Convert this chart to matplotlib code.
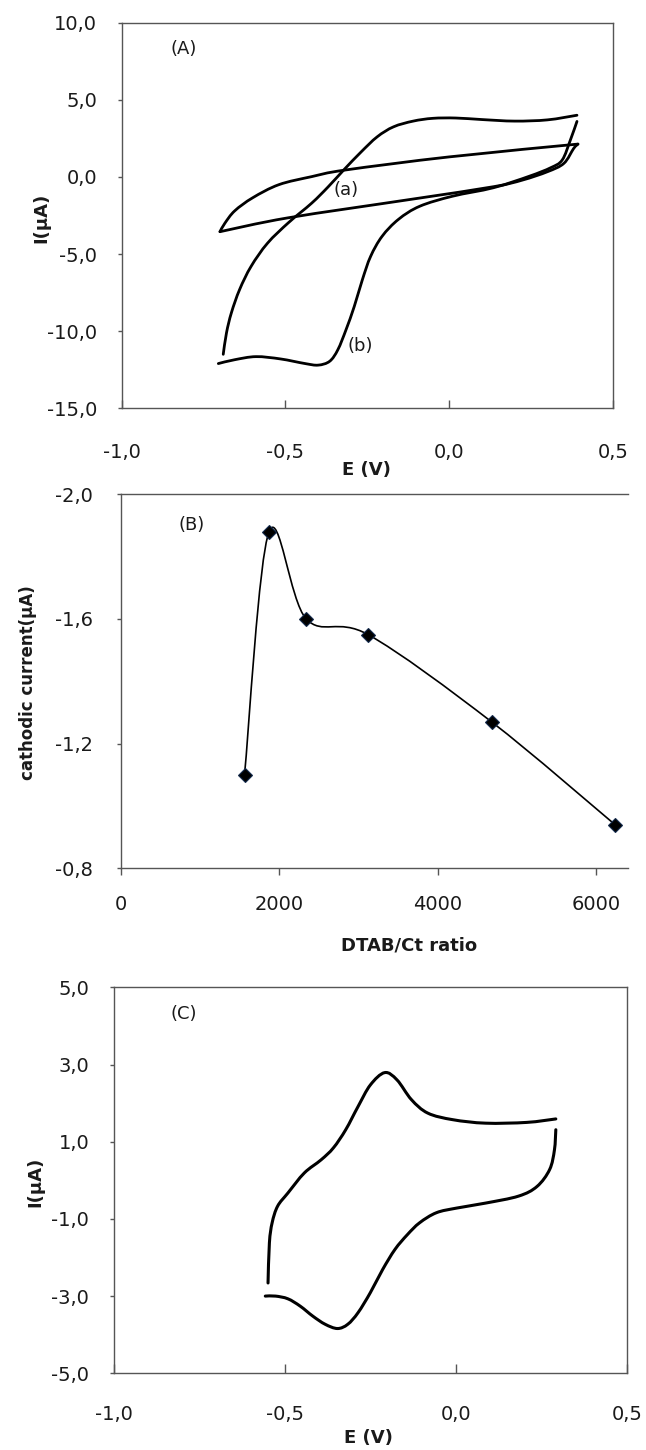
import numpy as np
import matplotlib
matplotlib.use('Agg')
import matplotlib.pyplot as plt
from matplotlib.path import Path
from matplotlib.patches import PathPatch
from matplotlib.ticker import FuncFormatter, FixedLocator

# ---------------- data ----------------
# Panel A, curve (b): upper branch (right -> left)
b_up_E = [0.39, 0.30, 0.20, 0.10, 0.02, -0.05, -0.11, -0.17, -0.22, -0.27, -0.32,
          -0.37, -0.42, -0.49, -0.555, -0.605, -0.64, -0.665, -0.68, -0.69]
b_up_I = [4.0, 3.70, 3.62, 3.72, 3.82, 3.80, 3.62, 3.25, 2.6, 1.6, 0.5,
          -0.65, -1.7, -2.95, -4.3, -5.8, -7.3, -8.8, -10.1, -11.5]
# Panel A, curve (b): lower branch (left -> right)
b_lo_E = [-0.705, -0.655, -0.59, -0.515, -0.44, -0.40, -0.365, -0.34, -0.315, -0.29,
          -0.265, -0.24, -0.205, -0.155, -0.09, 0.01, 0.135, 0.245, 0.31, 0.345, 0.37, 0.39]
b_lo_I = [-12.1, -11.85, -11.65, -11.8, -12.1, -12.2, -11.95, -11.2, -9.9, -8.4,
          -6.65, -5.15, -3.85, -2.75, -1.9, -1.25, -0.7, 0.05, 0.6, 1.1, 2.4, 3.6]
# Panel A, curve (a): upper branch (right -> left)
a_up_E = [0.393, 0.0, -0.317, -0.42, -0.52, -0.60, -0.655, -0.685, -0.70]
a_up_I = [2.13, 1.3, 0.45, 0.02, -0.5, -1.35, -2.2, -3.0, -3.55]
# Panel A, curve (a): lower branch (left -> right)
a_lo_E = [-0.70, -0.492, -0.116, 0.136, 0.224, 0.30, 0.35, 0.38, 0.393]
a_lo_I = [-3.55, -2.65, -1.45, -0.63, -0.2, 0.34, 0.88, 1.85, 2.13]

# Panel B
ratio = [1560, 1870, 2340, 3120, 4680, 6240]
cathodic = [-1.10, -1.88, -1.60, -1.55, -1.27, -0.94]

# Panel C: upper branch (left -> right)
c_up_E = [-0.549, -0.545, -0.537, -0.521, -0.491, -0.443, -0.394, -0.358, -0.322, -0.286,
          -0.25, -0.208, -0.172, -0.13, -0.082, -0.009, 0.087, 0.207, 0.292]
c_up_I = [-2.66, -1.62, -1.10, -0.67, -0.33, 0.19, 0.53, 0.84, 1.31, 1.91,
          2.47, 2.79, 2.60, 2.09, 1.74, 1.57, 1.48, 1.50, 1.59]
# Panel C: lower branch (right -> left)
c_lo_E = [0.292, 0.288, 0.274, 0.237, 0.183, 0.087, 0.002, -0.057, -0.106, -0.142, -0.178,
          -0.214, -0.25, -0.286, -0.316, -0.346, -0.382, -0.418, -0.455, -0.491, -0.527, -0.557]
c_lo_I = [1.31, 0.79, 0.28, -0.16, -0.41, -0.59, -0.72, -0.84, -1.10, -1.41, -1.79,
          -2.31, -2.91, -3.43, -3.73, -3.84, -3.73, -3.52, -3.26, -3.07, -3.0, -3.0]

cv_xticks = [-1.0, -0.5, 0.0, 0.5]
a_yticks = [-15, -10, -5, 0, 5, 10]
b_xticks = [0, 2000, 4000, 6000]
b_yticks = [-2.0, -1.6, -1.2, -0.8]
c_yticks = [-5, -3, -1, 1, 3, 5]

# ---------------- helpers ----------------
W, H = 646, 1450
DPI = 100
PT = DPI / 72.0


def rect(l, t, r, b):
    return [l / W, 1 - b / H, (r - l) / W, (b - t) / H]


def smooth_path(x, y):
    pts = np.column_stack([x, y]).astype(float)
    n = len(pts)
    verts = [pts[0]]
    codes = [Path.MOVETO]
    for i in range(n - 1):
        p0 = pts[i - 1] if i > 0 else pts[i]
        p1 = pts[i]
        p2 = pts[i + 1]
        p3 = pts[i + 2] if i + 2 < n else pts[i + 1]
        verts += [p1 + (p2 - p0) / 6.0, p2 - (p3 - p1) / 6.0, p2]
        codes += [Path.CURVE4] * 3
    return Path(verts, codes)


def add_curve(ax, x, y, lw, color='black'):
    ax.add_patch(PathPatch(smooth_path(x, y), fill=False, lw=lw, ec=color,
                           capstyle='round', joinstyle='round'))


def comma1(v, _):
    if abs(v) < 1e-9:
        v = 0.0
    return f"{v:.1f}".replace('.', ',')


def plain(v, _):
    return f"{v:.0f}"


SPINE = '#555555'
TXT = '#1a1a1a'
FS_TICK = 14
FS_LAB = 13

plt.rcParams['font.family'] = ['DejaVu Sans']

fig = plt.figure(figsize=(W / DPI, H / DPI), dpi=DPI)
fig.patch.set_facecolor('white')


def style_axes(ax, xpad_px, xdir, xlen_px, ypad_px, ylen_px):
    for s in ax.spines.values():
        s.set_color(SPINE)
        s.set_linewidth(1.0)
    ax.tick_params(axis='x', direction=xdir, length=xlen_px / PT, width=1.0,
                   color=SPINE, pad=xpad_px / PT, labelsize=FS_TICK, labelcolor=TXT)
    ax.tick_params(axis='y', direction='out', length=ylen_px / PT, width=1.0,
                   color=SPINE, pad=ypad_px / PT, labelsize=FS_TICK, labelcolor=TXT)


def ftext(x, y, s, **kw):
    fig.text(x / W, 1 - y / H, s, ha='center', va='center', color=TXT, **kw)


# ---------------- Panel A ----------------
axA = fig.add_axes(rect(121.7, 22.7, 613, 408.3))
axA.set_xlim(-1.0, 0.5)
axA.set_ylim(-15, 10)
axA.xaxis.set_major_locator(FixedLocator(cv_xticks))
axA.yaxis.set_major_locator(FixedLocator(a_yticks))
axA.xaxis.set_major_formatter(FuncFormatter(comma1))
axA.yaxis.set_major_formatter(FuncFormatter(comma1))
style_axes(axA, 35, 'in', 8, 20, 4.5)
add_curve(axA, a_up_E, a_up_I, 2.0)
add_curve(axA, a_lo_E, a_lo_I, 2.0)
add_curve(axA, b_up_E, b_up_I, 2.0)
add_curve(axA, b_lo_E, b_lo_I, 2.0)
axA.text(-0.315, -0.85, '(a)', ha='center', va='center', fontsize=13, color=TXT)
axA.text(-0.272, -10.93, '(b)', ha='center', va='center', fontsize=13, color=TXT)
ftext(184, 49, '(A)', fontsize=13)
ftext(366, 469.5, 'E (V)', fontsize=FS_LAB, fontweight='bold')
ftext(41, 218, 'I(µA)', fontsize=FS_LAB, fontweight='bold', rotation=90)

# ---------------- Panel B ----------------
axB = fig.add_axes(rect(121, 494.3, 627.7, 868.3))
axB.set_xlim(0, 6400)
axB.set_ylim(-0.8, -2.0)
axB.xaxis.set_major_locator(FixedLocator(b_xticks))
axB.yaxis.set_major_locator(FixedLocator(b_yticks))
axB.xaxis.set_major_formatter(FuncFormatter(plain))
axB.yaxis.set_major_formatter(FuncFormatter(comma1))
style_axes(axB, 20, 'out', 7, 23.5, 4.5)
axB.spines['right'].set_visible(False)
add_curve(axB, ratio, cathodic, 1.2)
axB.plot(ratio, cathodic, linestyle='none', marker='D', markersize=7.5,
         markerfacecolor='black', markeredgecolor='#12284a', markeredgewidth=0.8,
         clip_on=False, zorder=5)
ftext(192, 525, '(B)', fontsize=13)
ftext(409, 945, 'DTAB/Ct ratio', fontsize=FS_LAB, fontweight='bold')
ftext(28, 683, 'cathodic current(µA)', fontsize=12, fontweight='bold', rotation=90)

# ---------------- Panel C ----------------
axC = fig.add_axes(rect(113.7, 987.3, 627, 1373.3))
axC.set_xlim(-1.0, 0.5)
axC.set_ylim(-5, 5)
axC.xaxis.set_major_locator(FixedLocator(cv_xticks))
axC.yaxis.set_major_locator(FixedLocator(c_yticks))
axC.xaxis.set_major_formatter(FuncFormatter(comma1))
axC.yaxis.set_major_formatter(FuncFormatter(comma1))
style_axes(axC, 32, 'in', 9, 20, 4.5)
add_curve(axC, c_up_E, c_up_I, 2.2)
add_curve(axC, c_lo_E, c_lo_I, 2.2)
ftext(184, 1014, '(C)', fontsize=13)
ftext(368, 1438, 'E (V)', fontsize=FS_LAB, fontweight='bold')
ftext(35, 1182, 'I(µA)', fontsize=FS_LAB, fontweight='bold', rotation=90)

fig.savefig('out.png', dpi=DPI, facecolor='white')
